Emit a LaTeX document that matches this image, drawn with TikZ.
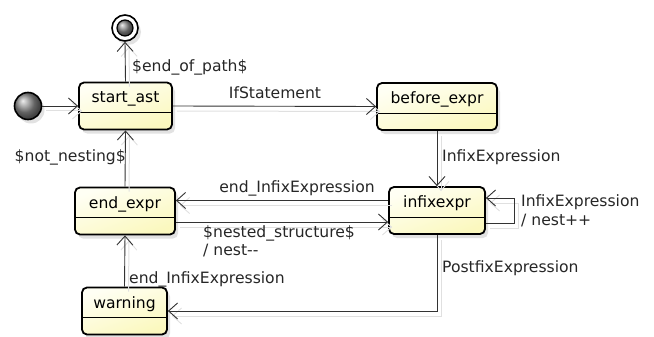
\documentclass[tikz,border=0pt]{standalone}
\usepackage{fontspec}
\setmainfont{DejaVu Sans}
\usetikzlibrary{arrows.meta,shadows,calc}
\definecolor{stateY}{HTML}{FEFECE}
\definecolor{stateTop}{HTML}{FFFFF4}
\definecolor{stateBot}{HTML}{FBF8BE}
\definecolor{lineC}{HTML}{333333}
\tikzset{
  statebox/.style={draw=black, line width=1.8pt, rounded corners=5pt,
    top color=stateTop, bottom color=stateBot, shading angle=20,
    drop shadow={shadow xshift=3pt, shadow yshift=-4pt, fill=black!25, opacity=0.45},
    inner sep=0pt, minimum height=47pt},
  divider/.style={draw=black, line width=0.8pt},
  edge/.style={draw=lineC, line width=0.9pt,
    -{Straight Barb[length=9pt,width=16pt,line width=0.9pt]},
    preaction={draw=black!12, line width=1pt, transform canvas={shift={(4pt,-5pt)}}}},
  lbl/.style={font=\fontsize{15.6}{18.5}\selectfont, text=black!85, inner sep=0pt},
  stxt/.style={font=\fontsize{15.6}{18}\selectfont, inner sep=0pt},
}
\begin{document}
\begin{tikzpicture}[x=1pt,y=-1pt]
\useasboundingbox (0,0) rectangle (654,337);

% states
\node[statebox, minimum width=93pt] (sa) at (125.5,106) {};
\node[statebox, minimum width=120pt] (be) at (437,106.5) {};
\node[statebox, minimum width=96pt] (ie) at (437,210.5) {};
\node[statebox, minimum width=100pt] (ee) at (125,211) {};
\node[statebox, minimum width=85pt] (wn) at (124.5,311) {};

\foreach \n/\t in {sa/start\_ast, be/before\_expr, ie/infixexpr, ee/end\_expr, wn/warning}{
  \draw[divider] ([yshift=-6.5pt]\n.west) -- ([yshift=-6.5pt]\n.east);
  \node[stxt] at ([yshift=7pt]\n.center) {\t};
}

% initial and final
\shade[ball color=black!45, drop shadow={shadow xshift=3pt, shadow yshift=-4pt, fill=black!25, opacity=0.45}]
  (28,106) circle (13.5pt);
\node[circle, draw=black, line width=1.6pt, minimum size=27pt, inner sep=0pt] (init) at (28,106) {};
\node[circle, draw=black, line width=1.6pt, fill=white, minimum size=26pt, inner sep=0pt,
  drop shadow={shadow xshift=3pt, shadow yshift=-4pt, fill=black!25, opacity=0.45}] (fin) at (125,28) {};
\shade[ball color=black!45] (125,28) circle (8pt);
\node[circle, draw=black, line width=1.2pt, minimum size=16pt, inner sep=0pt] (finin) at (125,28) {};

% edges
\draw[edge] (init) -- (sa.west);
\draw[edge] (sa.north) -- (fin.south);
\node[lbl, anchor=west] (l1) at (132,67) {\$end\_of\_path\$};

\draw[edge] (sa.east) -- (be.west);
\node[lbl] (l2) at (275,93) {IfStatement};

\draw[edge] (be.south) -- (ie.north);
\node[lbl, anchor=west] (l3) at (442,157) {InfixExpression};

\draw[edge] ([yshift=-12.5pt]ie.east) -- ++(29,0) |- ([yshift=12.5pt]ie.east);
\node[lbl, anchor=west, align=left] (l4) at (521,211) {InfixExpression\\/ nest++};

\draw[edge] ([yshift=10pt]ie.west) -- ([yshift=10pt]ie.west -| ee.east);
\node[lbl] (l5) at (297,188) {end\_InfixExpression};

\draw[edge] ([yshift=-11pt]ee.east) -- ([yshift=-11pt]ee.east -| ie.west);
\node[lbl, anchor=north west, align=left] (l6) at (203,225) {\$nested\_structure\$\\/ nest{-}{-}};

\draw[edge] (ee.north) -- (sa.south);
\node[lbl, anchor=east] (l7) at (126,157) {\$not\_nesting\$};

\draw[edge] (wn.north) -- (ee.south);
\node[lbl, anchor=west] (l8) at (129,279) {end\_InfixExpression};

\draw[edge] (ie.south) |- (wn.east);
\node[lbl, anchor=west] (l9) at (442,268) {PostfixExpression};
\end{tikzpicture}
\end{document}
